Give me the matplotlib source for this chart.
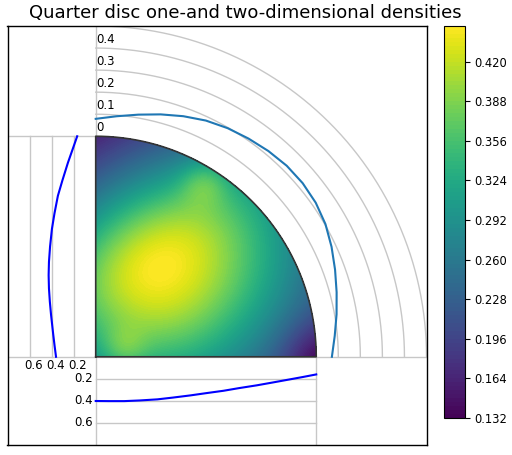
import numpy as np
import matplotlib
matplotlib.use("Agg")
import matplotlib.pyplot as plt

# colour range of the 2-d density
z_min = 0.132
z_max = 0.4488
n_levels = 100

# 2-d density: one tilted hill (different widths on each side) plus small bumps
peak_xy = [0.30, 0.40]
peak_height = 0.449
peak_angle = 33.0
scale_u = [0.72, 0.80]   # behind / ahead of the peak along the tilted axis
scale_v = [0.675, 0.507]  # below / above the tilted axis
bump_x = [0.49, 0.13, 1.0]
bump_y = [0.79, 0.04, 0.0]
bump_height = [0.05, 0.04, -0.05]
bump_width = [0.075, 0.07, 0.12]

# density of x (bottom panel)
x_vals = [0.0, 0.06, 0.13, 0.2, 0.28, 0.35, 0.43, 0.5, 0.58, 0.65, 0.73, 0.8, 0.88, 0.94, 1.0]
x_dens = [0.401, 0.402, 0.402, 0.396, 0.386, 0.370, 0.350, 0.330, 0.308, 0.284,
          0.259, 0.234, 0.205, 0.183, 0.160]

# density of y (left panel)
y_vals = [0.0, 0.05, 0.1, 0.19, 0.25, 0.31, 0.37, 0.43, 0.5, 0.58, 0.65, 0.73, 0.8,
          0.88, 0.94, 1.0]
y_dens = [0.360, 0.373, 0.385, 0.405, 0.416, 0.424, 0.427, 0.424, 0.414, 0.397,
          0.374, 0.343, 0.302, 0.252, 0.210, 0.168]

# density of the angle (curve round the disc)
angle_deg = [0, 5, 10, 15, 20, 25, 30, 35, 40, 45, 50, 55, 60, 65, 70, 75, 80, 85, 90]
angle_dens = [0.071, 0.088, 0.109, 0.131, 0.155, 0.180, 0.203, 0.218, 0.225, 0.225,
              0.218, 0.208, 0.197, 0.182, 0.161, 0.138, 0.115, 0.095, 0.079]

radial_ticks = [0, 0.1, 0.2, 0.3, 0.4]
side_ticks = [0.2, 0.4, 0.6]
side_scale = 0.5


def blend(s, w, pair):
    # smooth switch between the two widths so the contours stay round
    lo, hi = pair
    return (lo + hi) / 2 + (hi - lo) / 2 * np.tanh(s / w)


def density(x, y):
    a = np.radians(peak_angle)
    dx = x - peak_xy[0]
    dy = y - peak_xy[1]
    u = np.cos(a) * dx + np.sin(a) * dy
    v = -np.sin(a) * dx + np.cos(a) * dy
    su = blend(u, 0.25, scale_u)
    sv = blend(v, 0.25, scale_v)
    z = peak_height / (1 + (u / su) ** 2 + (v / sv) ** 2)
    for bx, by, bh, bw in zip(bump_x, bump_y, bump_height, bump_width):
        z = z + bh * np.exp(-((x - bx) ** 2 + (y - by) ** 2) / (2 * bw ** 2))
    return z


fig = plt.figure(figsize=(5.12, 4.55), dpi=100)
ax = fig.add_axes([7 / 512, 10 / 455, 420 / 512, 419 / 455])
cax = fig.add_axes([444 / 512, 37 / 455, 21 / 512, 392 / 455])

r = np.linspace(0, 1, 300)
t = np.linspace(0, np.pi / 2, 300)
R, T = np.meshgrid(r, t)
X = R * np.cos(T)
Y = R * np.sin(T)
Z = np.clip(density(X, Y), z_min, z_max)
levels = np.linspace(z_min, z_max, n_levels)
cs = ax.contourf(X, Y, Z, levels=levels, cmap="viridis", antialiased=False)
fig.colorbar(cs, cax=cax)
cax.tick_params(labelsize=8.3)

grey = "0.78"
# outline of the quarter disc
ax.plot(np.r_[0, np.cos(t), 0, 0], np.r_[0, np.sin(t), 1, 0], color="0.2", lw=1.2)
ax.axhline(0, color=grey, lw=1, zorder=0)
ax.axvline(0, color=grey, lw=1, zorder=0)
ax.plot([-0.4, 0], [1, 1], color=grey, lw=1, zorder=0)
ax.plot([1, 1], [-0.4, 0], color=grey, lw=1, zorder=0)

# radial scale for the angle density
for k in radial_ticks:
    if k > 0:
        ax.plot((1 + k) * np.cos(t), (1 + k) * np.sin(t), color=grey, lw=1, zorder=0)
    ax.text(0.004, 1 + k + 0.008, str(k), ha="left", va="bottom", fontsize=8.5)
ax.plot(1.5 * np.cos(t), 1.5 * np.sin(t), color=grey, lw=1, zorder=0)

# side scales for the marginal densities
for d in side_ticks:
    ax.plot([-side_scale * d] * 2, [0, 1], color=grey, lw=1, zorder=0)
    ax.plot([0, 1], [-side_scale * d] * 2, color=grey, lw=1, zorder=0)
    ax.text(-side_scale * d + 0.018, -0.01, str(d), ha="center", va="top", fontsize=8.5)
    ax.text(-0.015, -side_scale * d, str(d), ha="right", va="center", fontsize=8.5)

ax.plot(x_vals, -side_scale * np.array(x_dens), color="blue", lw=1.5)
ax.plot(-side_scale * np.array(y_dens), y_vals, color="blue", lw=1.5)
th = np.radians(angle_deg)
rr = 1 + np.array(angle_dens)
ax.plot(rr * np.cos(th), rr * np.sin(th), color="tab:blue", lw=1.5)

ax.set_xlim(-0.4, 1.5)
ax.set_ylim(-0.4, 1.5)
ax.set_aspect("equal")
ax.set_xticks([])
ax.set_yticks([])
for s in ax.spines.values():
    s.set_color("black")
    s.set_linewidth(1.0)
    s.set_zorder(5)

fig.text(245 / 512, 1 - 13 / 455, "Quarter disc one-and two-dimensional densities",
         ha="center", va="center", fontsize=13)

fig.savefig("out.png", dpi=100)
